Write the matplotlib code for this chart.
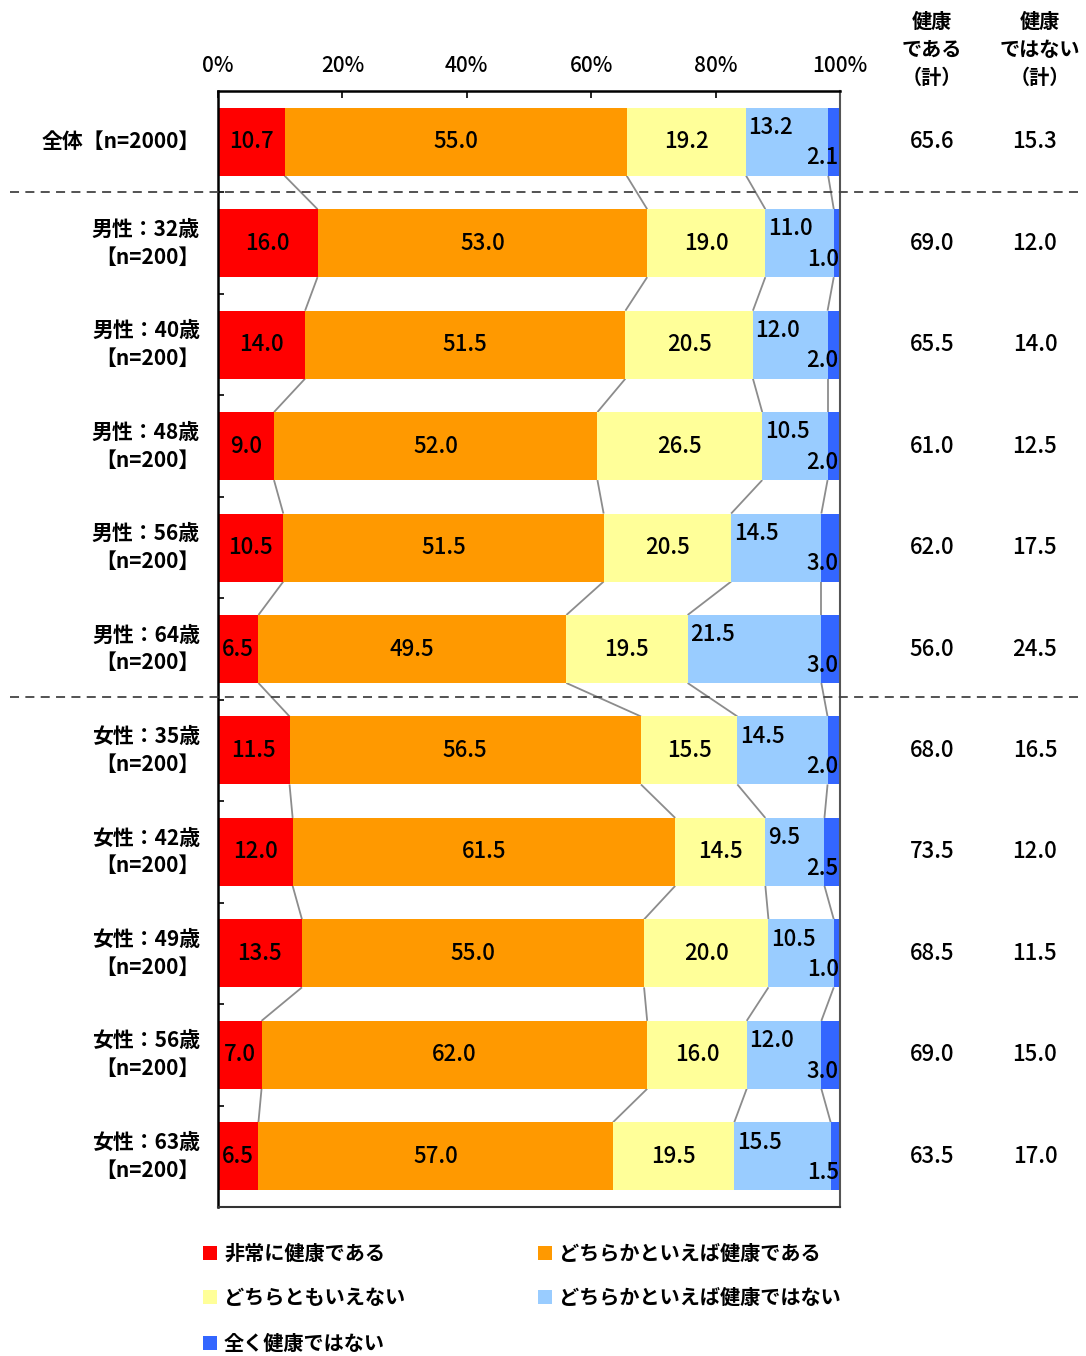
import matplotlib
matplotlib.use('Agg')
import matplotlib.pyplot as plt
from matplotlib.patches import Rectangle
import numpy as np

plt.rcParams['font.family'] = ['Noto Sans CJK JP', 'DejaVu Sans']

# Survey groups (top to bottom)
groups = ['全体【n=2000】',
          '男性：32歳\n【n=200】', '男性：40歳\n【n=200】', '男性：48歳\n【n=200】',
          '男性：56歳\n【n=200】', '男性：64歳\n【n=200】',
          '女性：35歳\n【n=200】', '女性：42歳\n【n=200】', '女性：49歳\n【n=200】',
          '女性：56歳\n【n=200】', '女性：63歳\n【n=200】']

answers = ['非常に健康である', 'どちらかといえば健康である', 'どちらともいえない',
           'どちらかといえば健康ではない', '全く健康ではない']
colors = ['#FF0000', '#FF9900', '#FFFF99', '#99CCFF', '#3366FF']

very_healthy = [10.7, 16.0, 14.0, 9.0, 10.5, 6.5, 11.5, 12.0, 13.5, 7.0, 6.5]
fairly_healthy = [55.0, 53.0, 51.5, 52.0, 51.5, 49.5, 56.5, 61.5, 55.0, 62.0, 57.0]
neutral = [19.2, 19.0, 20.5, 26.5, 20.5, 19.5, 15.5, 14.5, 20.0, 16.0, 19.5]
fairly_unhealthy = [13.2, 11.0, 12.0, 10.5, 14.5, 21.5, 14.5, 9.5, 10.5, 12.0, 15.5]
not_healthy = [2.1, 1.0, 2.0, 2.0, 3.0, 3.0, 2.0, 2.5, 1.0, 3.0, 1.5]

healthy_total = [65.6, 69.0, 65.5, 61.0, 62.0, 56.0, 68.0, 73.5, 68.5, 69.0, 63.5]
unhealthy_total = [15.3, 12.0, 14.0, 12.5, 17.5, 24.5, 16.5, 12.0, 11.5, 15.0, 17.0]

xticks = [0, 20, 40, 60, 80, 100]
xtick_labels = ['0%', '20%', '40%', '60%', '80%', '100%']

series = np.array([very_healthy, fairly_healthy, neutral, fairly_unhealthy, not_healthy])
n = len(groups)
y = np.arange(n)
bar_h = 0.67

W, H = 1086, 1356
fig = plt.figure(figsize=(W / 100, H / 100), dpi=100)
ax = fig.add_axes([218 / W, 1 - 1207 / H, 622 / W, (1207 - 91) / H])

left = np.zeros(n)
for vals, col in zip(series, colors):
    ax.barh(y, vals, left=left, height=bar_h, color=col, edgecolor='none', zorder=2)
    left += vals

# connector lines between segment boundaries of neighbouring bars
cum = np.cumsum(series, axis=0)
for k in range(4):
    for i in range(n - 1):
        ax.plot([cum[k, i], cum[k, i + 1]], [y[i] + bar_h / 2, y[i + 1] - bar_h / 2],
                color='#8c8c8c', lw=1.3, zorder=1, solid_capstyle='butt')

# value labels
fs = 16
fw = 'medium'
for i in range(n):
    x0 = 0
    for k in range(3):
        v = series[k, i]
        ax.text(x0 + v / 2, y[i], f'{v:.1f}', ha='center', va='center',
                fontsize=fs, fontweight=fw, zorder=3)
        x0 += v
    ax.text(x0 + 0.4, y[i] - 0.14, f'{series[3, i]:.1f}', ha='left', va='center',
            fontsize=fs, fontweight=fw, zorder=3)
    ax.text(99.8, y[i] + 0.16, f'{series[4, i]:.1f}', ha='right', va='center',
            fontsize=fs, fontweight=fw, zorder=3)

ax.set_xlim(0, 100)
ax.set_ylim(n - 0.5, -0.5)

ax.xaxis.tick_top()
ax.set_xticks(xticks)
ax.set_xticklabels(xtick_labels, fontsize=15, fontweight=fw)
ax.tick_params(axis='x', direction='in', length=5, width=1.2, pad=10, colors='black')
ax.set_yticks(np.arange(n - 1) + 0.5)
ax.set_yticklabels([])
ax.tick_params(axis='y', direction='in', length=4, width=1.2)

for s in ['left', 'top']:
    ax.spines[s].set_linewidth(1.8)
    ax.spines[s].set_color('black')
ax.spines['bottom'].set_linewidth(1.5)
ax.spines['bottom'].set_color('#333333')
ax.spines['right'].set_linewidth(1.5)
ax.spines['right'].set_color('#555555')
for s in ax.spines.values():
    s.set_zorder(4)

# group labels on the left
ytr = ax.get_yaxis_transform()
for i, g in enumerate(groups):
    ax.text(-0.029, y[i], g, transform=ytr, ha='right', va='center',
            fontsize=15, fontweight='bold', linespacing=1.4)

# totals columns on the right
for i in range(n):
    ax.text(1.148, y[i], f'{healthy_total[i]:.1f}', transform=ytr, ha='center',
            va='center', fontsize=fs, fontweight=fw)
    ax.text(1.3135, y[i], f'{unhealthy_total[i]:.1f}', transform=ytr, ha='center',
            va='center', fontsize=fs, fontweight=fw)

for xpx, lines in [(932, ['健康', 'である', '（計）']), (1040, ['健康', 'ではない', '（計）'])]:
    for j, t in enumerate(lines):
        fig.text(xpx / W, 1 - (21 + 28 * j) / H, t, ha='center', va='center',
                 fontsize=14.5, fontweight='bold')

# dashed separators between total / male / female blocks
for ypx in [192, 697]:
    fig.add_artist(plt.Line2D([10 / W, 1080 / W], [1 - ypx / H, 1 - ypx / H],
                              color='#444444', lw=1.3, linestyle=(0, (5, 3.5))))

# legend, filled row by row
leg_pos = [(203, 1253), (538, 1253), (203, 1297), (538, 1297), (203, 1343)]
for (xp, yp), lab, col in zip(leg_pos, answers, colors):
    fig.add_artist(Rectangle((xp / W, 1 - (yp + 7) / H), 14 / W, 14 / H,
                             transform=fig.transFigure, facecolor=col, edgecolor='none'))
    fig.text((xp + 21) / W, 1 - yp / H, lab, ha='left', va='center',
             fontsize=14.5, fontweight='bold')

fig.savefig('out.png', dpi=100)
